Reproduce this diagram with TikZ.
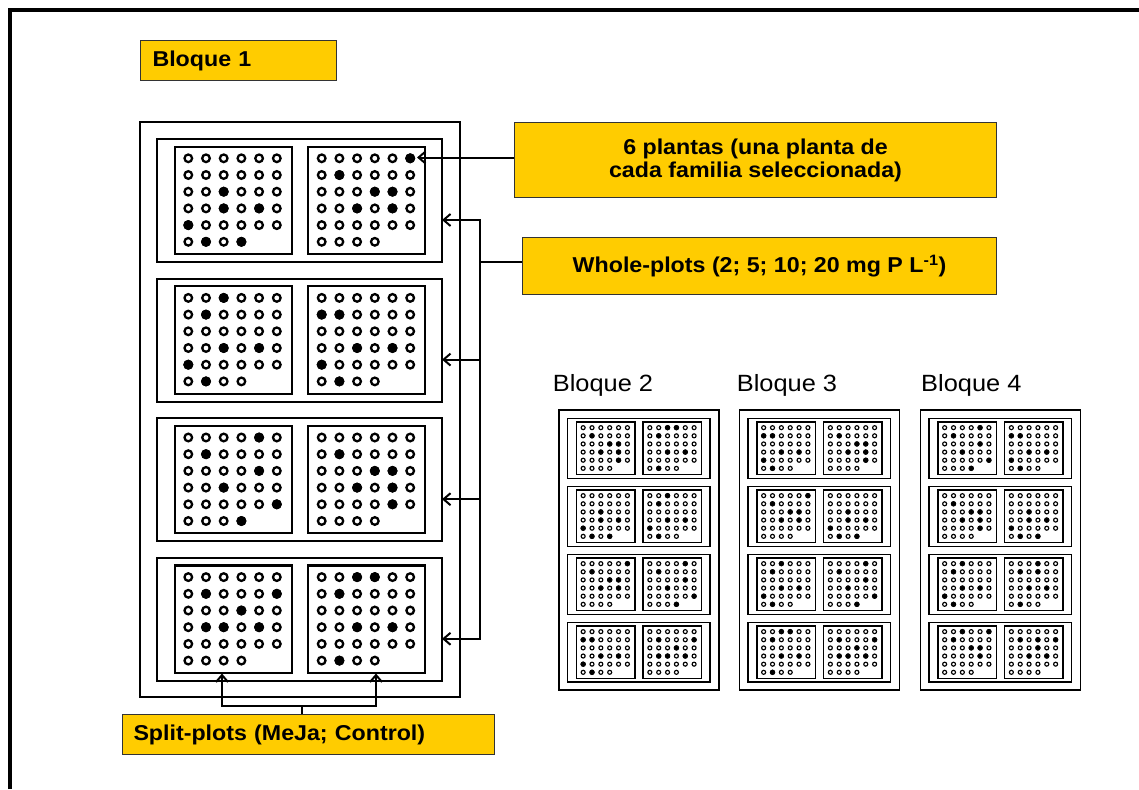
\documentclass[tikz,border=0pt]{standalone}
\usepackage{fontspec}
\setmainfont{Liberation Sans}[FakeStretch=1.08]
\usetikzlibrary{arrows.meta}
\definecolor{ybox}{HTML}{FFCC00}

% filled-dot patterns (row/column)
\def\pA{3/3,4/3,4/5,5/1,6/2,6/4}
\def\pB{1/6,2/2,3/4,3/5,4/3,4/5}
\def\pC{1/3,2/2,4/3,4/5,5/1,6/2}
\def\pD{2/1,2/2,4/3,4/5,5/1,6/2}
\def\pE{1/5,2/2,3/5,4/3,5/6,6/4}
\def\pF{2/2,3/4,3/5,4/3,4/5,5/5}
\def\pG{2/2,2/6,3/4,4/2,4/3,4/5}
\def\pH{1/3,1/4,2/2,4/3,4/5,6/2}
\def\pI{1/4,2/2,2/4,4/3,4/5,6/2}
\def\pJ{1/3,1/6,2/2,3/4,3/5,4/5}
\def\pK{2/2,2/4,2/6,3/4,4/3,4/5}

\newcommand\fillsp[3]{%
  \foreach \ri/\ci in #3 {%
    \fill ({\ox+(48.3+133.4*#2+17.7*(\ci-1))*\sx},{\oy+(17+139.6*(#1-1)+19.3+16.7*(\ri-1))*\sy}) circle[radius=\fdr];
  }}

\newcommand\drawblk[1]{%
  \draw[#1] (\ox,\oy) rectangle ({\ox+320*\sx},{\oy+575*\sy});
  \foreach \k in {0,1,2,3}{%
    \pgfmathsetmacro\T{17+139.6*\k}
    \draw[#1] ({\ox+17*\sx},{\oy+\T*\sy}) rectangle ({\ox+302*\sx},{\oy+(\T+123)*\sy});
    \draw[#1] ({\ox+35*\sx},{\oy+(\T+7.7)*\sy}) rectangle ({\ox+152*\sx},{\oy+(\T+115)*\sy});
    \draw[#1] ({\ox+168*\sx},{\oy+(\T+7.7)*\sy}) rectangle ({\ox+285*\sx},{\oy+(\T+115)*\sy});
    \foreach \xs in {48.3,181.7}{%
      \foreach \ri in {0,...,5}{%
        \pgfmathtruncatemacro\nc{\ri==5 ? 3 : 5}
        \foreach \ci in {0,...,\nc}{%
          \draw[line width=\olw] ({\ox+(\xs+17.7*\ci)*\sx},{\oy+(\T+19.3+16.7*\ri)*\sy}) circle[radius=\odr];
        }}}}}

\newcommand\bigdots{\def\odr{3.8pt}\def\olw{2.3pt}\def\fdr{5pt}}
\newcommand\smalldots{\def\odr{2.0pt}\def\olw{1.15pt}\def\fdr{2.7pt}}

\begin{document}
\begin{tikzpicture}[x=1pt,y=-1pt,
  frameline/.style={line width=4pt},
  ylab/.style={draw=black!80, line width=1pt, fill=ybox, font=\fontsize{21.5}{23}\selectfont\bfseries, inner sep=0pt},
  blab/.style={anchor=base west, inner sep=0pt, font=\fontsize{23.5}{26}\selectfont},
  conn/.style={line width=2pt},
  arr/.style={conn, -{Straight Barb[length=7pt,width=12pt]}},
  bigline/.style={line width=2.1pt},
  smallline/.style={line width=1.3pt},
]
\useasboundingbox (0,0) rectangle (1139,789);
\fill[white] (0,0) rectangle (1139,789);
\draw[frameline] (10,789) -- (10,10) -- (1139,10);

% Bloque 1 (large)
\def\ox{140}\def\oy{122}\def\sx{1}\def\sy{1}\bigdots
\drawblk{bigline}
\fillsp{1}{0}{\pA}\fillsp{1}{1}{\pB}
\fillsp{2}{0}{\pC}\fillsp{2}{1}{\pD}
\fillsp{3}{0}{\pE}\fillsp{3}{1}{\pF}
\fillsp{4}{0}{\pG}\fillsp{4}{1}{\pH}

% Bloque 2
\def\ox{559}\def\oy{410}\def\sx{0.5}\def\sy{0.487}\smalldots
\drawblk{smallline}
\fillsp{1}{0}{\pF}\fillsp{1}{1}{\pH}
\fillsp{2}{0}{\pA}\fillsp{2}{1}{\pC}
\fillsp{3}{0}{\pB}\fillsp{3}{1}{\pE}
\fillsp{4}{0}{\pD}\fillsp{4}{1}{\pG}

% Bloque 3
\def\ox{739.5}
\drawblk{smallline}
\fillsp{1}{0}{\pD}\fillsp{1}{1}{\pF}
\fillsp{2}{0}{\pB}\fillsp{2}{1}{\pA}
\fillsp{3}{0}{\pC}\fillsp{3}{1}{\pE}
\fillsp{4}{0}{\pH}\fillsp{4}{1}{\pG}

% Bloque 4
\def\ox{920.5}
\drawblk{smallline}
\fillsp{1}{0}{\pE}\fillsp{1}{1}{\pD}
\fillsp{2}{0}{\pF}\fillsp{2}{1}{\pA}
\fillsp{3}{0}{\pC}\fillsp{3}{1}{\pI}
\fillsp{4}{0}{\pJ}\fillsp{4}{1}{\pK}

% labels
\node[ylab, anchor=north west, minimum height=40pt, text width=172pt, inner xsep=12pt, align=left] (b1) at (140,40) {Bloque 1};
\node[ylab, anchor=north west, minimum width=482pt, minimum height=75pt, align=center] (pl) at (514,122) {6 plantas (una planta de\\cada familia seleccionada)};
\node[ylab, anchor=north west, minimum width=474pt, minimum height=57pt] (wp) at (522,237) {Whole-plots (2; 5; 10; 20 mg P L\textsuperscript{-1})};
\node[ylab, anchor=north west, minimum height=40pt, text width=350pt, inner xsep=11pt, align=left] (sp) at (122,714) {Split-plots (MeJa; Control)};

\node[blab] (b2) at (552.7,391.7) {Bloque 2};
\node[blab] (b3) at (736.7,391.7) {Bloque 3};
\node[blab] (b4) at (921,391.7) {Bloque 4};

% connectors
\coordinate (tgt) at (417,157.5);
\draw[arr] (pl.west |- tgt) -- (tgt);

\coordinate (j) at (480,262);
\coordinate (w1) at (442,220);
\coordinate (w2) at (442,359.6);
\coordinate (w3) at (442,499.2);
\coordinate (w4) at (442,638.8);
\draw[conn] (wp.west |- j) -- (j);
\draw[conn, line cap=rect] (w1 -| j) -- (w4 -| j);
\foreach \i in {1,...,4} \draw[arr] (w\i -| j) -- (w\i);

\coordinate (s1) at (222,673.5);
\coordinate (s2) at (376,673.5);
\coordinate (sj) at (302,705.5);
\draw[conn] (sp.north -| sj) -- (sj);
\draw[conn, line cap=rect] (sj -| s1) -- (sj -| s2);
\draw[arr] (sj -| s1) -- (s1);
\draw[arr] (sj -| s2) -- (s2);
\end{tikzpicture}
\end{document}
